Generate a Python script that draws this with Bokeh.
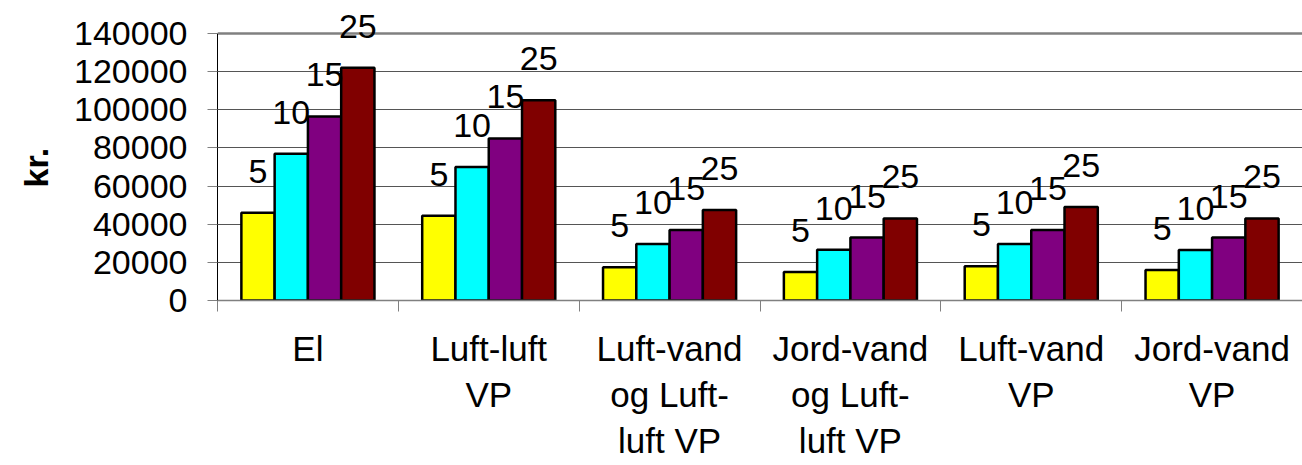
from bokeh.plotting import figure
from bokeh.models import (ColumnDataSource, Range1d, FixedTicker, LabelSet,
                          NumeralTickFormatter, Span)
from bokeh.transform import dodge
from bokeh.core.properties import value
from bokeh.embed import file_html
from bokeh.resources import INLINE

categories = ["El", "Luft-luft\nVP", "Luft-vand\nog Luft-\nluft VP",
              "Jord-vand\nog Luft-\nluft VP", "Luft-vand\nVP", "Jord-vand\nVP"]
series_names = ["5", "10", "15", "25"]
values_5 = [46000, 44500, 17500, 15000, 18000, 16000]
values_10 = [77000, 70000, 29600, 26600, 29600, 26500]
values_15 = [96500, 85000, 37000, 33000, 37000, 33000]
values_25 = [122000, 105000, 47500, 43000, 49000, 43000]
colors = ["#FFFF00", "#00FFFF", "#800080", "#800000"]
y_ticks = [0, 20000, 40000, 60000, 80000, 100000, 120000, 140000]
y_max = 140000
y_title = "kr."

FONT = "Liberation Sans"
n = len(categories)
x_centers = [i + 0.5 for i in range(n)]

# frame spans from the very top of the page down to the zero line (300 px)
frame_h = 300
top_gap = 33
y_end = y_max * frame_h / (frame_h - top_gap)
frame_left = 217

p = figure(width=1302, height=465, output_backend="svg", toolbar_location=None,
           x_range=Range1d(0, n), y_range=Range1d(0, y_end),
           min_border_left=frame_left, min_border_right=0, min_border_top=0, min_border_bottom=165,
           title=y_title, title_location="left")

bar_w = 0.184
offsets = [-1.5 * bar_w, -0.5 * bar_w, 0.5 * bar_w, 1.5 * bar_w]
all_vals = [values_5, values_10, values_15, values_25]

# grid (drawn first, under bars)
p.xgrid.grid_line_color = None
p.ygrid.ticker = FixedTicker(ticks=y_ticks[:-1])
p.ygrid.grid_line_color = "#555555"
p.ygrid.grid_line_width = 1
p.add_layout(Span(location=y_max, dimension="width", line_color="#808080", line_width=2.5, level="underlay"))

for name, vals, col, off in zip(series_names, all_vals, colors, offsets):
    src = ColumnDataSource(dict(x=x_centers, top=vals, label=[name] * n))
    p.vbar(x=dodge("x", off), top="top", width=bar_w, source=src,
           fill_color=col, line_color="black", line_width=2.5)
    lbl = LabelSet(x=dodge("x", off), y="top", text="label", source=src,
                   y_offset=30, text_align="center", text_baseline="alphabetic",
                   text_font=value(FONT), text_font_size="34px", text_color="black")
    p.add_layout(lbl)

# y axis
p.yaxis.ticker = FixedTicker(ticks=y_ticks)
p.yaxis.bounds = (0, y_max)
p.yaxis.formatter = NumeralTickFormatter(format="0")
p.yaxis.major_label_text_font = FONT
p.yaxis.major_label_text_font_size = "34px"
p.yaxis.major_label_text_color = "black"
p.yaxis.major_tick_out = 10
p.yaxis.major_tick_in = 0
p.yaxis.major_tick_line_color = "#808080"
p.yaxis.minor_tick_line_color = None
p.yaxis.axis_line_color = "black"
p.yaxis.major_label_standoff = 20

# y title (as a left-side title so it can be centred on the 0..140000 span)
p.title.align = "left"
p.title.offset = 113
p.title.text_font = FONT
p.title.text_font_size = "34px"
p.title.text_font_style = "bold"
p.title.text_color = "black"
p.title.vertical_align = "top"
p.title.standoff = 30

# x axis
p.xaxis.ticker = FixedTicker(ticks=x_centers, minor_ticks=list(range(n + 1)))
p.xaxis.major_label_overrides = {x: c for x, c in zip(x_centers, categories)}
p.xaxis.major_tick_line_color = None
p.xaxis.minor_tick_out = 11
p.xaxis.minor_tick_in = 0
p.xaxis.minor_tick_line_color = "#808080"
p.xaxis.axis_line_color = "#808080"
p.xaxis.axis_line_width = 1.5
p.xaxis.major_label_text_font = FONT
p.xaxis.major_label_text_font_size = "35px"
p.xaxis.major_label_text_color = "black"
p.xaxis.major_label_text_line_height = 1.19
p.xaxis.major_label_standoff = 17

p.outline_line_color = None
p.background_fill_color = "white"
p.border_fill_color = "white"

open("out.html", "w").write(file_html(p, INLINE))
